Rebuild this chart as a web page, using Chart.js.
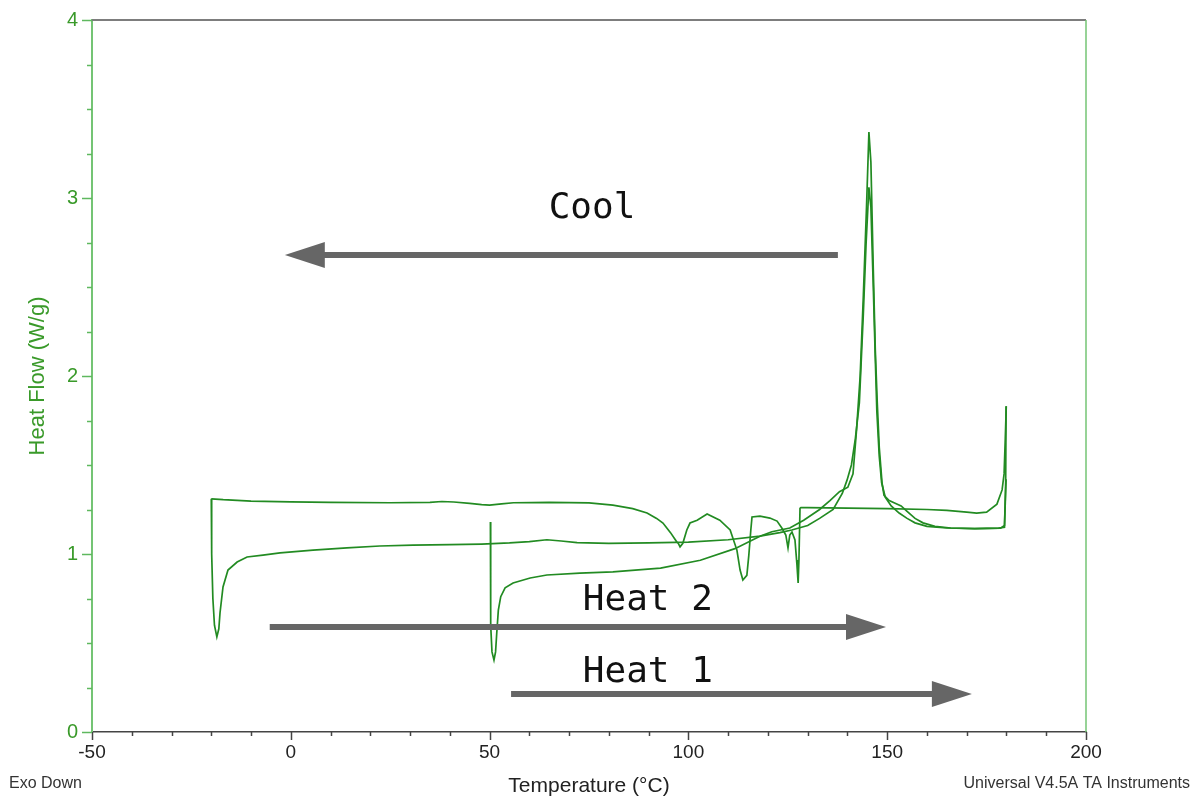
<!DOCTYPE html>
<html><head><meta charset="utf-8">
<script src="https://cdn.jsdelivr.net/npm/chart.js@4.4.1/dist/chart.umd.min.js"></script>
<style>html,body{margin:0;padding:0;background:#fff;}#wrap{width:1194px;height:800px;}</style>
</head><body><div id="wrap"><canvas id="c" width="1194" height="800"></canvas></div>
<script>
// ---- Data (Temperature °C, Heat Flow W/g) ----
const heat1T  = [50.2,50.25,50.3,50.6,51.1,51.5,51.8,52.2,52.8,53.9,55.9,60.2,64.4,72.7,81,93,103,111.7,118,121,125.5,129,133,135.6,138,140.1,141.4,142.3,143.2,144,144.8,145.4,145.9,146.5,147,147.5,148,148.7,149.2,150.5,152,153.5,155,157,159,162,166,172,178,179.5,179.8,179.9];
const heat1HF = [1.18,0.9,0.6,0.45,0.404,0.45,0.556,0.685,0.76,0.81,0.837,0.865,0.882,0.893,0.9,0.921,0.965,1.03,1.10,1.125,1.146,1.19,1.25,1.30,1.35,1.375,1.45,1.7,2.0,2.45,2.95,3.37,3.2,2.6,2.15,1.85,1.6,1.4,1.33,1.30,1.285,1.27,1.24,1.2,1.175,1.155,1.146,1.143,1.145,1.15,1.4,1.83];

const coolT  = [179.95,179.7,179.4,178.9,177.6,175,172.5,170,165,160,150,140,130,128.3,128.07,127.8,127.6,127.3,126.8,126.05,125.5,125.05,124.5,123.5,122.3,120.5,118,116,115.7,115.2,114.7,113.7,113,112.2,110.5,107.9,104.7,102.2,100.4,99.6,98.6,97.9,97.4,97.1,95.5,93.6,92,89.6,86,81,75,65,56,53,50,48,45,41,38,35,25,10,0,-10,-17,-20];
const coolHF = [1.83,1.65,1.45,1.36,1.28,1.235,1.23,1.235,1.245,1.25,1.255,1.258,1.26,1.26,1.258,0.966,0.837,0.94,1.079,1.124,1.107,1.034,1.107,1.146,1.185,1.202,1.213,1.208,1.135,0.994,0.88,0.854,0.91,1.022,1.135,1.19,1.225,1.19,1.174,1.135,1.06,1.04,1.062,1.067,1.12,1.174,1.2,1.23,1.255,1.275,1.287,1.29,1.288,1.282,1.275,1.277,1.284,1.292,1.295,1.29,1.288,1.29,1.293,1.297,1.305,1.31];

const heat2T  = [-20,-19.9,-19.6,-19.2,-18.6,-18.1,-17.8,-17.05,-15.8,-13.5,-11,-7,-2.7,5.6,14.1,22.4,30.7,40,48,55,60,64.4,68,72,80,90,100,110,118,123,126,130,133,136.4,138.7,139.9,141,142,143,144,144.7,145.4,145.9,146.5,147,147.4,148,148.6,149.5,151,153,155,157,160,165,172,178.5,179.5,179.9];
const heat2HF = [1.31,1.0,0.75,0.6,0.534,0.58,0.67,0.815,0.91,0.955,0.983,0.994,1.006,1.022,1.034,1.045,1.05,1.053,1.056,1.062,1.07,1.08,1.073,1.064,1.06,1.062,1.067,1.08,1.10,1.12,1.135,1.16,1.20,1.25,1.34,1.415,1.5,1.65,1.85,2.35,2.75,3.06,2.95,2.5,2.1,1.8,1.55,1.4,1.32,1.27,1.23,1.2,1.175,1.155,1.146,1.143,1.145,1.16,1.42];

const xTickLabels = [-50, 0, 50, 100, 150, 200];
const yTickLabels = [0, 1, 2, 3, 4];

// Annotation arrows (data units)
const arrowLabels = ['Cool', 'Heat 2', 'Heat 1'];
const arrowFromT  = [137.6, -5.3, 55.4];
const arrowToT    = [-1.5, 149.7, 171.3];
const arrowHF     = [2.68, 0.59, 0.2135];
const labelT      = [75.75, 89.8, 89.8];
const labelHF     = [2.938, 0.736, 0.331];

const toPts = (t, h) => t.map((v, i) => ({x: v, y: h[i]}));
const lineColor = 'rgb(34,139,34)';
const mkDs = (label, t, h) => ({label, data: toPts(t, h), showLine: true, borderColor: lineColor,
  backgroundColor: lineColor, borderWidth: 1.7, pointRadius: 0, tension: 0, fill: false});

const overlay = {
  id: 'overlay',
  afterDraw(chart) {
    const {ctx, chartArea: a, scales: {x, y}} = chart;
    ctx.save();
    const line = (x0, y0, x1, y1) => { ctx.beginPath(); ctx.moveTo(x0, y0); ctx.lineTo(x1, y1); ctx.stroke(); };
    // frame top / right
    ctx.strokeStyle = '#7d7d7d'; ctx.lineWidth = 2; line(a.left, a.top, a.right, a.top);
    ctx.strokeStyle = '#74c474'; ctx.lineWidth = 1.5; line(a.right, a.top, a.right, a.bottom);
    // x ticks (major + minor)
    ctx.strokeStyle = '#444'; ctx.lineWidth = 1.5;
    const xMin = xTickLabels[0], xMax = xTickLabels[xTickLabels.length - 1];
    for (let v = xMin; v <= xMax + 1e-9; v += 10) {
      const px = Math.round(x.getPixelForValue(v)) + 0.5;
      const major = xTickLabels.includes(Math.round(v));
      line(px, a.bottom, px, a.bottom + (major ? 8 : 4));
    }
    // y ticks
    ctx.strokeStyle = '#5fb85f';
    const yMin = yTickLabels[0], yMax = yTickLabels[yTickLabels.length - 1];
    for (let v = yMin; v <= yMax + 1e-9; v += 0.25) {
      const py = Math.round(y.getPixelForValue(v)) + 0.5;
      const major = Math.abs(v - Math.round(v)) < 1e-9;
      line(a.left - (major ? 10 : 5), py, a.left, py);
    }
    // arrows
    arrowLabels.forEach((lab, i) => {
      const x0 = x.getPixelForValue(arrowFromT[i]);
      const x1 = x.getPixelForValue(arrowToT[i]);
      const py = y.getPixelForValue(arrowHF[i]);
      const dir = Math.sign(x1 - x0);
      const headLen = 40, headHalf = 13;
      const base = x1 - dir * headLen;
      ctx.fillStyle = '#666'; ctx.strokeStyle = '#666';
      ctx.lineWidth = 6; ctx.lineCap = 'butt';
      line(x0, py, base + dir * 2, py);
      ctx.beginPath(); ctx.moveTo(x1, py); ctx.lineTo(base, py - headHalf); ctx.lineTo(base, py + headHalf); ctx.closePath(); ctx.fill();
      ctx.fillStyle = '#111';
      ctx.font = '36px "DejaVu Sans Mono", "Liberation Mono", monospace';
      ctx.textAlign = 'center'; ctx.textBaseline = 'middle';
      ctx.fillText(lab, x.getPixelForValue(labelT[i]), y.getPixelForValue(labelHF[i]));
    });
    // footer texts
    ctx.fillStyle = '#333'; ctx.font = '16px "Liberation Sans", Arial, sans-serif'; ctx.textBaseline = 'alphabetic';
    ctx.textAlign = 'left'; ctx.fillText('Exo Down', 9, 788);
    ctx.textAlign = 'right'; ctx.fillText('Universal V4.5A TA Instruments', 1190, 788);
    ctx.restore();
  }
};

new Chart(document.getElementById('c'), {
  type: 'scatter',
  data: { datasets: [mkDs('Cool', coolT, coolHF), mkDs('Heat 2', heat2T, heat2HF), mkDs('Heat 1', heat1T, heat1HF)] },
  options: {
    responsive: false, animation: false, devicePixelRatio: 1,
    layout: { padding: { top: 20, right: 108, left: 0, bottom: 0 } },
    plugins: { legend: { display: false }, tooltip: { enabled: false } },
    scales: {
      x: {
        type: 'linear', min: -50, max: 200,
        afterBuildTicks: s => { s.ticks = xTickLabels.map(v => ({value: v})); },
        afterFit: s => { s.height = 68; s.paddingLeft = 0; s.paddingRight = 0; },
        grid: { display: false, drawTicks: false },
        border: { display: true, color: '#444', width: 1.5 },
        ticks: { padding: 9, color: '#222', font: { family: '"Liberation Sans", Arial, sans-serif', size: 19 }, maxRotation: 0, autoSkip: false },
        title: { display: true, text: 'Temperature (°C)', color: '#222', font: { family: '"Liberation Sans", Arial, sans-serif', size: 21 }, padding: { top: 0, bottom: 1 } }
      },
      y: {
        type: 'linear', min: 0, max: 4,
        afterBuildTicks: s => { s.ticks = yTickLabels.map(v => ({value: v})); },
        afterFit: s => { s.width = 92; s.paddingTop = 0; s.paddingBottom = 0; },
        grid: { display: false, drawTicks: false },
        border: { display: true, color: '#74c474', width: 2 },
        ticks: { padding: 14, color: '#3a9a2a', font: { family: '"Liberation Sans", Arial, sans-serif', size: 20 } },
        title: { display: true, text: 'Heat Flow (W/g)', color: '#3a9a2a', font: { family: '"Liberation Sans", Arial, sans-serif', size: 22 }, padding: { top: 25, bottom: 0 } }
      }
    }
  },
  plugins: [overlay]
});
</script></body></html>
